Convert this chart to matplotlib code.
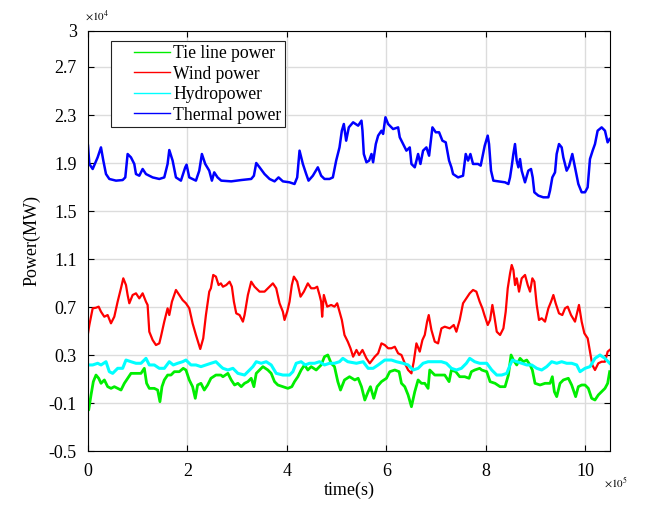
import matplotlib
matplotlib.use('Agg')
import matplotlib.pyplot as plt
from matplotlib.lines import Line2D
from matplotlib.legend_handler import HandlerLine2D

# time in units of 1e5 s, power in units of 1e4 MW
t_thermal = [0.0, 0.027, 0.094, 0.194, 0.261, 0.308, 0.362, 0.429, 0.563, 0.697, 0.75, 0.797, 0.864,
             0.931, 0.965, 1.032, 1.099, 1.166, 1.30, 1.434, 1.534, 1.601, 1.635, 1.702, 1.769, 1.869,
             1.956, 1.983, 2.037, 2.171, 2.238, 2.291, 2.358, 2.439, 2.492, 2.539, 2.606, 2.68, 2.881,
             3.082, 3.283, 3.337, 3.384, 3.451, 3.551, 3.652, 3.753, 3.833, 3.92, 4.054, 4.154, 4.208,
             4.255, 4.322, 4.389, 4.436, 4.523, 4.623, 4.69, 4.757, 4.858, 4.925, 4.992, 5.059, 5.106,
             5.146, 5.193, 5.246, 5.333, 5.434, 5.501, 5.521, 5.548, 5.601, 5.655, 5.702, 5.735, 5.789,
             5.836, 5.903, 5.936, 5.983, 6.037, 6.137, 6.238, 6.271, 6.338, 6.405, 6.472, 6.506, 6.573,
             6.64, 6.687, 6.74, 6.807, 6.861, 6.928, 6.995, 7.062, 7.129, 7.196, 7.263, 7.31, 7.343,
             7.444, 7.544, 7.598, 7.645, 7.692, 7.745, 7.846, 7.899, 7.946, 7.98, 8.04, 8.067, 8.107,
             8.154, 8.255, 8.389, 8.456, 8.489, 8.523, 8.556, 8.589, 8.623, 8.657, 8.69, 8.723, 8.79,
             8.857, 8.911, 8.945, 8.978, 9.059, 9.159, 9.26, 9.293, 9.34, 9.394, 9.427, 9.474, 9.528,
             9.561, 9.628, 9.675, 9.742, 9.796, 9.863, 9.93, 9.997, 10.05, 10.097, 10.151, 10.198,
             10.251, 10.332, 10.399, 10.452, 10.492]
p_thermal = [2.044, 1.892, 1.85, 1.947, 2.03, 1.92, 1.808, 1.767, 1.753, 1.758, 1.78, 1.975, 1.947,
             1.892, 1.808, 1.794, 1.85, 1.808, 1.78, 1.767, 1.78, 1.892, 2.008, 1.92, 1.78, 1.753,
             1.864, 1.886, 1.78, 1.753, 1.836, 1.975, 1.892, 1.836, 1.753, 1.822, 1.78, 1.753, 1.747,
             1.758, 1.767, 1.794, 1.9, 1.864, 1.808, 1.767, 1.747, 1.78, 1.747, 1.739, 1.725, 1.78,
             2.003, 1.892, 1.808, 1.753, 1.794, 1.864, 1.794, 1.767, 1.767, 1.78, 1.92, 2.03, 2.169,
             2.225, 2.086, 2.197, 2.239, 2.211, 2.253, 2.169, 1.975, 1.906, 1.92, 1.975, 1.906, 2.058,
             2.128, 2.169, 2.142, 2.281, 2.225, 2.183, 2.197, 2.114, 2.058, 2.003, 2.03, 1.892, 1.864,
             1.975, 1.892, 2.003, 2.03, 1.961, 2.197, 2.156, 2.156, 2.086, 2.072, 1.92, 1.864, 1.808,
             1.78, 1.794, 1.975, 1.92, 1.975, 1.892, 1.892, 1.878, 1.975, 2.044, 2.128, 2.058, 1.836,
             1.753, 1.747, 1.739, 1.725, 1.78, 1.872, 1.975, 2.058, 1.92, 1.864, 1.933, 1.836, 1.739,
             1.836, 1.85, 1.78, 1.656, 1.628, 1.614, 1.614, 1.669, 1.78, 1.822, 1.975, 2.058, 2.03,
             1.947, 1.836, 1.872, 1.975, 1.864, 1.725, 1.656, 1.656, 1.697, 1.933, 2.003, 2.058,
             2.169, 2.197, 2.169, 2.072, 2.1]

t_wind = [0.0, 0.027, 0.094, 0.161, 0.214, 0.261, 0.328, 0.395, 0.462, 0.529, 0.596, 0.663, 0.710,
          0.764, 0.797, 0.831, 0.898, 0.965, 1.032, 1.099, 1.166, 1.199, 1.233, 1.30, 1.367, 1.434,
          1.467, 1.534, 1.601, 1.635, 1.688, 1.769, 1.836, 1.903, 1.97, 2.037, 2.104, 2.171, 2.258,
          2.318, 2.372, 2.439, 2.472, 2.519, 2.573, 2.627, 2.673, 2.714, 2.781, 2.848, 2.894, 2.935,
          2.982, 3.049, 3.116, 3.149, 3.216, 3.283, 3.35, 3.451, 3.551, 3.652, 3.719, 3.786, 3.853,
          3.92, 3.953, 4.007, 4.054, 4.1, 4.141, 4.208, 4.275, 4.342, 4.422, 4.489, 4.556, 4.610,
          4.657, 4.69, 4.710, 4.744, 4.811, 4.891, 4.958, 5.012, 5.059, 5.106, 5.159, 5.226, 5.280,
          5.333, 5.400, 5.454, 5.521, 5.601, 5.668, 5.769, 5.836, 5.903, 5.970, 6.037, 6.104, 6.171,
          6.238, 6.305, 6.372, 6.439, 6.506, 6.552, 6.606, 6.673, 6.727, 6.774, 6.821, 6.854, 6.908,
          6.975, 7.042, 7.109, 7.176, 7.276, 7.357, 7.410, 7.477, 7.544, 7.611, 7.678, 7.745, 7.812,
          7.879, 7.933, 7.974, 8.041, 8.088, 8.134, 8.175, 8.222, 8.289, 8.356, 8.402, 8.443, 8.49,
          8.523, 8.557, 8.59, 8.624, 8.67, 8.724, 8.791, 8.845, 8.892, 8.938, 8.979, 9.026, 9.072,
          9.126, 9.193, 9.26, 9.314, 9.361, 9.407, 9.474, 9.541, 9.595, 9.649, 9.716, 9.796, 9.876,
          9.93, 9.984, 10.051, 10.098, 10.144, 10.198, 10.265, 10.332, 10.399, 10.453, 10.493]
p_wind = [0.481, 0.55, 0.689, 0.694, 0.703, 0.661, 0.619, 0.633, 0.564, 0.619, 0.744, 0.856, 0.939,
          0.883, 0.8, 0.731, 0.8, 0.814, 0.772, 0.814, 0.744, 0.717, 0.494, 0.425, 0.383, 0.397,
          0.453, 0.578, 0.689, 0.633, 0.744, 0.842, 0.8, 0.758, 0.731, 0.689, 0.564, 0.467, 0.35,
          0.439, 0.633, 0.828, 0.856, 0.967, 0.953, 0.883, 0.897, 0.869, 0.883, 0.911, 0.869, 0.744,
          0.647, 0.633, 0.578, 0.633, 0.8, 0.911, 0.869, 0.828, 0.828, 0.869, 0.897, 0.856, 0.731,
          0.661, 0.592, 0.661, 0.744, 0.883, 0.953, 0.911, 0.786, 0.828, 0.897, 0.856, 0.856, 0.869,
          0.8, 0.744, 0.619, 0.8, 0.703, 0.717, 0.703, 0.731, 0.661, 0.592, 0.467, 0.411, 0.356,
          0.286, 0.342, 0.3, 0.342, 0.272, 0.231, 0.286, 0.314, 0.397, 0.383, 0.356, 0.356, 0.369,
          0.314, 0.3, 0.231, 0.175, 0.147, 0.244, 0.397, 0.328, 0.425, 0.467, 0.578, 0.633, 0.508,
          0.411, 0.397, 0.522, 0.536, 0.522, 0.55, 0.494, 0.592, 0.731, 0.772, 0.814, 0.842, 0.828,
          0.744, 0.689, 0.633, 0.55, 0.592, 0.717, 0.619, 0.494, 0.467, 0.522, 0.661, 0.856, 0.981,
          1.05, 1.008, 0.883, 0.939, 0.828, 0.939, 0.967, 0.883, 0.828, 0.939, 0.911, 0.717, 0.592,
          0.606, 0.578, 0.689, 0.744, 0.8, 0.731, 0.647, 0.633, 0.689, 0.703, 0.633, 0.578, 0.717,
          0.578, 0.481, 0.439, 0.328, 0.217, 0.175, 0.231, 0.244, 0.244, 0.328, 0.342]

t_hydro = [0.0, 0.094, 0.195, 0.262, 0.362, 0.429, 0.496, 0.597, 0.697, 0.764, 0.865, 0.965, 1.066,
           1.166, 1.233, 1.334, 1.434, 1.535, 1.635, 1.715, 1.803, 1.903, 1.97, 2.071, 2.171, 2.272,
           2.372, 2.473, 2.573, 2.674, 2.714, 2.814, 2.915, 3.015, 3.149, 3.25, 3.317, 3.384, 3.484,
           3.585, 3.685, 3.786, 3.92, 4.054, 4.121, 4.188, 4.288, 4.368, 4.456, 4.556, 4.657, 4.757,
           4.858, 4.958, 5.059, 5.126, 5.226, 5.40, 5.534, 5.635, 5.735, 5.836, 5.97, 6.104, 6.204,
           6.338, 6.439, 6.539, 6.64, 6.74, 6.841, 6.975, 7.109, 7.209, 7.31, 7.41, 7.511, 7.611,
           7.678, 7.779, 7.879, 7.92, 8.021, 8.121, 8.222, 8.322, 8.423, 8.49, 8.536, 8.624, 8.724,
           8.825, 8.925, 9.026, 9.126, 9.227, 9.327, 9.428, 9.528, 9.629, 9.729, 9.83, 9.897, 9.997,
           10.098, 10.198, 10.299, 10.399, 10.493]
p_hydro = [0.217, 0.217, 0.231, 0.217, 0.244, 0.161, 0.147, 0.189, 0.189, 0.258, 0.244, 0.231, 0.231,
           0.272, 0.217, 0.217, 0.189, 0.189, 0.244, 0.217, 0.231, 0.244, 0.258, 0.217, 0.217, 0.203,
           0.217, 0.231, 0.244, 0.203, 0.189, 0.175, 0.189, 0.147, 0.133, 0.175, 0.203, 0.244, 0.231,
           0.244, 0.217, 0.147, 0.133, 0.133, 0.161, 0.231, 0.244, 0.217, 0.231, 0.231, 0.244, 0.217,
           0.231, 0.231, 0.244, 0.272, 0.244, 0.231, 0.244, 0.189, 0.189, 0.217, 0.258, 0.258, 0.244,
           0.231, 0.217, 0.175, 0.189, 0.231, 0.244, 0.244, 0.244, 0.231, 0.189, 0.175, 0.189, 0.231,
           0.272, 0.244, 0.231, 0.231, 0.231, 0.175, 0.133, 0.133, 0.147, 0.217, 0.258, 0.244, 0.231,
           0.217, 0.217, 0.189, 0.175, 0.203, 0.244, 0.231, 0.244, 0.231, 0.231, 0.217, 0.161, 0.189,
           0.203, 0.272, 0.3, 0.272, 0.231]

t_tie = [0.0, 0.014, 0.061, 0.107, 0.161, 0.215, 0.262, 0.329, 0.396, 0.463, 0.530, 0.597, 0.664,
         0.731, 0.798, 0.865, 0.965, 1.066, 1.133, 1.179, 1.233, 1.334, 1.401, 1.447, 1.488, 1.535,
         1.602, 1.669, 1.736, 1.836, 1.916, 1.97, 2.037, 2.104, 2.158, 2.205, 2.272, 2.339, 2.406,
         2.473, 2.573, 2.674, 2.714, 2.814, 2.881, 2.948, 3.015, 3.082, 3.149, 3.216, 3.283, 3.337,
         3.384, 3.451, 3.518, 3.618, 3.685, 3.752, 3.819, 3.92, 4.02, 4.1, 4.154, 4.221, 4.288,
         4.355, 4.422, 4.489, 4.590, 4.69, 4.757, 4.824, 4.891, 4.958, 5.025, 5.079, 5.159, 5.26,
         5.367, 5.434, 5.501, 5.568, 5.635, 5.681, 5.748, 5.815, 5.903, 6.003, 6.07, 6.171, 6.258,
         6.305, 6.372, 6.439, 6.506, 6.573, 6.64, 6.707, 6.774, 6.841, 6.874, 6.975, 7.075, 7.176,
         7.263, 7.31, 7.397, 7.477, 7.578, 7.665, 7.712, 7.779, 7.879, 7.92, 8.021, 8.088, 8.188,
         8.289, 8.389, 8.456, 8.51, 8.557, 8.624, 8.691, 8.758, 8.825, 8.892, 8.938, 8.992, 9.093,
         9.193, 9.294, 9.34, 9.381, 9.428, 9.495, 9.562, 9.662, 9.729, 9.809, 9.863, 9.93, 9.997,
         10.064, 10.131, 10.198, 10.265, 10.332, 10.399, 10.453, 10.493]
p_tie = [-0.131, -0.158, -0.033, 0.078, 0.133, 0.106, 0.064, 0.092, 0.036, 0.022, 0.036, 0.022, 0.008,
         0.064, 0.106, 0.147, 0.147, 0.147, 0.189, 0.064, 0.022, 0.022, 0.008, -0.089, 0.036, 0.092,
         0.133, 0.133, 0.161, 0.161, 0.189, 0.175, 0.092, 0.036, -0.061, 0.05, 0.064, 0.008, 0.05,
         0.106, 0.133, 0.133, 0.119, 0.147, 0.092, 0.05, 0.064, 0.036, 0.064, 0.078, 0.106, 0.036,
         0.147, 0.175, 0.203, 0.175, 0.147, 0.078, 0.05, 0.036, 0.022, 0.036, 0.078, 0.119, 0.175,
         0.217, 0.175, 0.203, 0.175, 0.217, 0.286, 0.3, 0.231, 0.203, 0.078, 0.008, 0.092, 0.119,
         0.092, 0.106, 0.036, -0.075, -0.006, 0.036, -0.061, 0.036, 0.078, 0.106, 0.161, 0.175, 0.161,
         0.064, 0.036, -0.033, -0.131, -0.006, 0.092, 0.064, 0.064, 0.022, 0.175, 0.133, 0.133, 0.133,
         0.078, 0.175, 0.161, 0.119, 0.119, 0.106, 0.161, 0.175, 0.189, 0.175, 0.161, 0.078, 0.064,
         0.036, 0.036, 0.133, 0.3, 0.258, 0.217, 0.272, 0.244, 0.258, 0.217, 0.175, 0.064, 0.05,
         0.064, 0.064, 0.119, -0.006, -0.047, 0.064, 0.092, 0.106, 0.05, -0.047, 0.036, 0.05, 0.05,
         0.022, -0.061, -0.075, -0.033, -0.006, 0.022, 0.064, 0.161]

y_ticks = [-0.5, -0.1, 0.3, 0.7, 1.1, 1.5, 1.9, 2.3, 2.7, 3.0]
y_tick_labels = ['-0.5', '-0.1', '0.3', '0.7', '1.1', '1.5', '1.9', '2.3', '2.7', '3']
x_ticks = [0, 2, 4, 6, 8, 10]

plt.rcParams['font.family'] = ['Liberation Serif', 'DejaVu Serif']
plt.rcParams['mathtext.fontset'] = 'stix'

fig = plt.figure(figsize=(6.48, 5.09), dpi=100)
ax = fig.add_axes([88 / 648, 58 / 509, 522 / 648, 420 / 509])

ax.plot(t_tie, p_tie, color='#00ee00', lw=2.0, label='Tie line power')
ax.plot(t_wind, p_wind, color='#ff0000', lw=1.6, label='Wind power')
ax.plot(t_hydro, p_hydro, color='#00ffff', lw=2.2, label='Hydropower')
ax.plot(t_thermal, p_thermal, color='#0000ff', lw=1.8, label='Thermal power')

ax.set_xlim(0, 10.5)
ax.set_ylim(-0.5, 3.0)
ax.set_xticks(x_ticks)
ax.set_xticklabels([str(v) for v in x_ticks])
ax.set_yticks(y_ticks)
ax.set_yticklabels(y_tick_labels)
ax.tick_params(direction='in', length=4, width=0.8, top=True, right=True, labelsize=13)
ax.tick_params(axis='y', pad=8)
ax.tick_params(axis='x', pad=9)
ax.grid(True, color='#dcdcdc', lw=1.0)
ax.set_axisbelow(True)
for s in ax.spines.values():
    s.set_linewidth(0.8)

ax.set_xlabel('time(s)', fontsize=13, labelpad=1)
ax.set_ylabel('Power(MW)', fontsize=13, labelpad=6)

ax.text(-0.005, 1.02, r'$\times10^{4}$', transform=ax.transAxes, fontsize=8, ha='left', va='bottom')
ax.text(0.988, -0.075, r'$\times10^{5}$', transform=ax.transAxes, fontsize=8, ha='left', va='center')

leg = ax.legend(loc='upper left', bbox_to_anchor=(0.045, 0.975), borderaxespad=0,
                fontsize=12.7, frameon=True, fancybox=False, framealpha=1, edgecolor='#222222',
                borderpad=0.2, labelspacing=0.2, handlelength=3.14, handletextpad=0.15,
                handler_map={Line2D: HandlerLine2D(xpad=1.1)})
leg.get_frame().set_linewidth(0.8)
for h in leg.get_lines():
    h.set_linewidth(1.0)

fig.savefig('out.png', dpi=100)
